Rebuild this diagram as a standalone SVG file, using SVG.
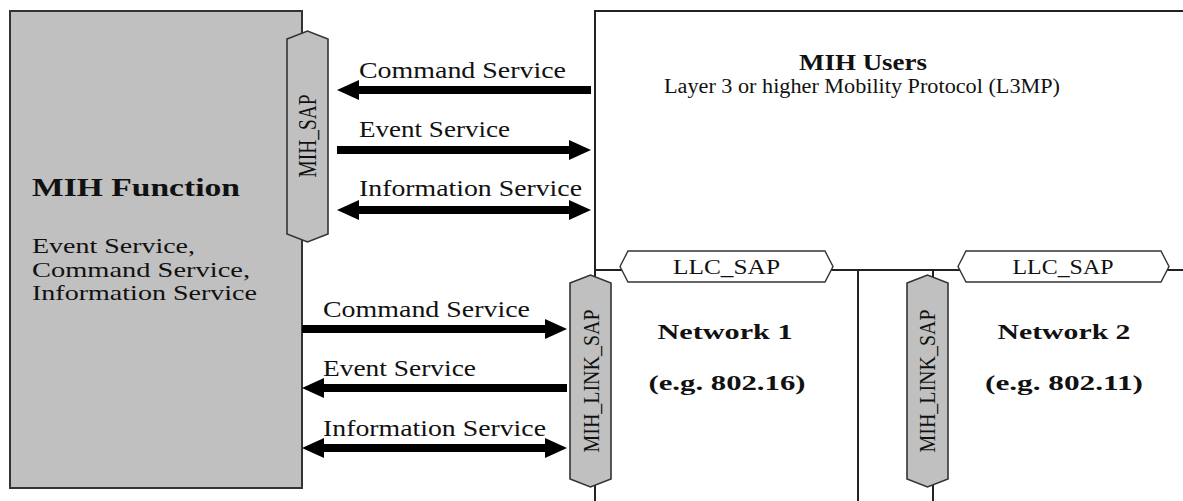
<svg xmlns="http://www.w3.org/2000/svg" width="1183" height="501" viewBox="0 0 1183 501">
<style>
.t{font-family:"Liberation Serif","Times New Roman",serif;fill:#111}
.b{font-weight:bold}
.ln{stroke:#222;stroke-width:2;fill:none}
.sap{fill:#c0c0c0;stroke:#333;stroke-width:1.6}
.llc{fill:#fff;stroke:#333;stroke-width:1.4}
.arr{stroke:#000;stroke-width:8;fill:none}
</style>
<defs>
<marker id="ah" viewBox="0 0 22 20" refX="12" refY="10" markerWidth="22" markerHeight="20" markerUnits="userSpaceOnUse" orient="auto-start-reverse">
<path d="M0,0 L22,10 L0,20 z" fill="#000"/>
</marker>
</defs>
<rect width="1183" height="501" fill="#fff"/>

<g id="mih-users">
<path class="ln" d="M595,501 V11 H1183"/>
<text class="t b" x="863" y="70" font-size="24" text-anchor="middle" textLength="128" lengthAdjust="spacingAndGlyphs">MIH Users</text>
<text class="t" x="862" y="93" font-size="20" text-anchor="middle" textLength="396" lengthAdjust="spacingAndGlyphs">Layer 3 or higher Mobility Protocol (L3MP)</text>
</g>

<g id="network1">
<path class="ln" d="M595,270 H1183 M858,270 V501"/>
<text class="t b" x="725" y="339" font-size="22" text-anchor="middle" textLength="135" lengthAdjust="spacingAndGlyphs">Network 1</text>
<text class="t b" x="727" y="390" font-size="22" text-anchor="middle" textLength="157" lengthAdjust="spacingAndGlyphs">(e.g. 802.16)</text>
</g>

<g id="network2">
<path class="ln" d="M933,270 V501"/>
<text class="t b" x="1064" y="339" font-size="22" text-anchor="middle" textLength="133" lengthAdjust="spacingAndGlyphs">Network 2</text>
<text class="t b" x="1064" y="390" font-size="22" text-anchor="middle" textLength="158" lengthAdjust="spacingAndGlyphs">(e.g. 802.11)</text>
</g>

<g id="llc-sap-1">
<polygon class="llc" points="620,266.5 628,251 825,251 833,266.5 825,282 628,282"/>
<text class="t" x="726.5" y="274" font-size="20" text-anchor="middle" textLength="107" lengthAdjust="spacingAndGlyphs">LLC_SAP</text>
</g>

<g id="llc-sap-2">
<polygon class="llc" points="958,266.5 966,251 1161,251 1169,266.5 1161,282 966,282"/>
<text class="t" x="1063" y="274" font-size="20" text-anchor="middle" textLength="101" lengthAdjust="spacingAndGlyphs">LLC_SAP</text>
</g>

<g id="mih-function">
<rect x="10" y="11" width="292" height="477" fill="#c0c0c0" stroke="#333" stroke-width="2"/>
<text class="t b" x="32" y="196" font-size="26" textLength="208" lengthAdjust="spacingAndGlyphs">MIH Function</text>
<text class="t" x="32" y="253" font-size="21" textLength="163" lengthAdjust="spacingAndGlyphs">Event Service,</text>
<text class="t" x="32" y="277" font-size="21" textLength="218" lengthAdjust="spacingAndGlyphs">Command Service,</text>
<text class="t" x="32" y="300" font-size="21" textLength="225" lengthAdjust="spacingAndGlyphs">Information Service</text>
</g>

<g id="mih-sap">
<polygon class="sap" points="287,39 307.5,31 328,39 328,234 307.5,242 287,234"/>
<text class="t" transform="translate(308,136) scale(1.25,1) rotate(-90)" x="0" y="6.5" font-size="19.5" text-anchor="middle" textLength="83" lengthAdjust="spacingAndGlyphs">MIH_SAP</text>
</g>

<g id="mih-link-sap-1">
<polygon class="sap" points="570,283 590.5,275 611,283 611,479 590.5,487 570,479"/>
<text class="t" transform="translate(591,381) scale(1.2,1) rotate(-90)" x="0" y="6.5" font-size="20" text-anchor="middle" textLength="143" lengthAdjust="spacingAndGlyphs">MIH_LINK_SAP</text>
</g>

<g id="mih-link-sap-2">
<polygon class="sap" points="907,283 927.5,275 948,283 948,479 927.5,487 907,479"/>
<text class="t" transform="translate(927,381) scale(1.2,1) rotate(-90)" x="0" y="6.5" font-size="20" text-anchor="middle" textLength="143" lengthAdjust="spacingAndGlyphs">MIH_LINK_SAP</text>
</g>

<g id="connectors">
<line class="arr" x1="591" y1="90" x2="347" y2="90" marker-end="url(#ah)"/>
<line class="arr" x1="337" y1="150" x2="581" y2="150" marker-end="url(#ah)"/>
<line class="arr" x1="347" y1="210" x2="581" y2="210" marker-start="url(#ah)" marker-end="url(#ah)"/>
<line class="arr" x1="302" y1="329" x2="557" y2="329" marker-end="url(#ah)"/>
<line class="arr" x1="567" y1="388" x2="312" y2="388" marker-end="url(#ah)"/>
<line class="arr" x1="312" y1="448" x2="557" y2="448" marker-start="url(#ah)" marker-end="url(#ah)"/>
<text class="t" x="359" y="78" font-size="23" textLength="207" lengthAdjust="spacingAndGlyphs">Command Service</text>
<text class="t" x="359" y="137" font-size="23" textLength="151" lengthAdjust="spacingAndGlyphs">Event Service</text>
<text class="t" x="359" y="196" font-size="23" textLength="223" lengthAdjust="spacingAndGlyphs">Information Service</text>
<text class="t" x="323" y="317" font-size="23" textLength="207" lengthAdjust="spacingAndGlyphs">Command Service</text>
<text class="t" x="323" y="376" font-size="23" textLength="153" lengthAdjust="spacingAndGlyphs">Event Service</text>
<text class="t" x="323" y="436" font-size="23" textLength="223" lengthAdjust="spacingAndGlyphs">Information Service</text>
</g>
</svg>
